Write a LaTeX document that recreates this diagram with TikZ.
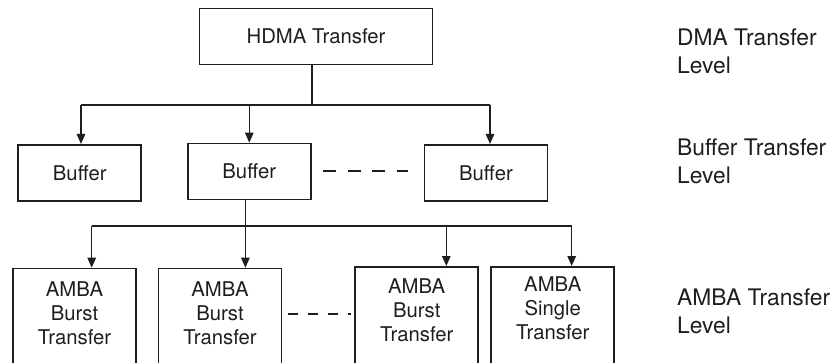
\documentclass[tikz,border=0pt]{standalone}
\usepackage{fontspec}
\setmainfont{TeX Gyre Heros}
\usetikzlibrary{arrows.meta,calc}
\definecolor{ink}{RGB}{30,30,30}
\begin{document}
\begin{tikzpicture}[x=1pt,y=-1pt,
  box/.style={draw=ink,line width=1.7pt,rectangle,minimum width=123pt,minimum height=56pt,inner sep=0pt,font=\fontsize{20.3}{24}\selectfont,text=ink},
  tallbox/.style={draw=ink,line width=1.7pt,rectangle,minimum width=123pt,minimum height=130pt,inner sep=0pt,anchor=north},
  boxtext/.style={anchor=north,align=center,inner sep=0pt,font=\fontsize{20.3}{24}\selectfont,text=ink},
  lvl/.style={anchor=north west,align=left,inner sep=0pt,font=\fontsize{22.8}{28.3}\selectfont,text=ink},
  conn/.style={draw=ink,line width=1.3pt},
  arr/.style={conn,-{Triangle[length=10pt,width=8.5pt]}},
  gapdash/.style={draw=ink,line width=2.2pt}
]
\useasboundingbox (0,0) rectangle (839,362);
\clip (0,0) rectangle (839,362);

% top level
\node[box,minimum width=233pt,minimum height=56pt] (hdma) at (316,36.5) {HDMA Transfer};

% buffers
\node[box] (b1) at (79.8,172.8) {Buffer};
\node[box] (b2) at (249.3,171.5) {Buffer};
\node[box] (b3) at (486,172.8) {Buffer};

% AMBA boxes (cut off at bottom)
\node[tallbox] (m1) at (74.5,267.7) {};
\node[tallbox] (m2) at (220,267.7) {};
\node[tallbox] (m3) at (416.7,266) {};
\node[tallbox] (m4) at (552.8,266) {};
\node[boxtext] (t1) at ($(m1.north)+(0,14)$) {AMBA\\Burst\\Transfer};
\node[boxtext] (t2) at ($(m2.north)+(0,14)$) {AMBA\\Burst\\Transfer};
\node[boxtext] (t3) at ($(m3.north)+(0,12.6)$) {AMBA\\Burst\\Transfer};
\node[boxtext] (t4) at ($(m4.north)+(0,10.7)$) {AMBA\\Single\\Transfer};

% level labels
\node[lvl] (l1) at (677,28.5) {DMA Transfer\\Level};
\node[lvl] (l2) at (677,138.5) {Buffer Transfer\\Level};
\node[lvl] (l3) at (677,288.5) {AMBA Transfer\\Level};

% upper tree
\coordinate (j1) at (312,105);
\coordinate (busL) at (81,105);
\coordinate (busM) at (249.3,105);
\coordinate (busR) at (490,105);
\draw[conn] (j1 |- hdma.south) -- (j1);
\draw[conn] (busL) -- (busR);
\draw[arr] (busL) -- (busL |- b1.north);
\draw[arr] (busM) -- (busM |- b2.north);
\draw[arr] (busR) -- (busR |- b3.north);

% lower tree
\coordinate (a1) at (91.7,226);
\coordinate (a2) at (245.4,226);
\coordinate (a3) at (446.3,226);
\coordinate (a4) at (571.7,226);
\draw[conn] (a2 |- b2.south) -- (a2);
\draw[conn] (a1) -- (a4);
\draw[arr] (a1) -- (a1 |- m1.north);
\draw[arr] (a2) -- (a2 |- m2.north);
\draw[arr] (a3) -- (a3 |- m3.north);
\draw[arr] (a4) -- (a4 |- m4.north);

% ellipsis dashes
\draw[gapdash,dash pattern=on 13pt off 11.5pt] ($(b2.east)+(11.7,-0.8)$) -- ($(b3.west)+(-15.7,-2.1)$);
\draw[gapdash,dash pattern=on 10pt off 10pt] ($(m2.north east)+(5.3,46.3)$) -- ($(m3.north west)+(-3,48)$);
\end{tikzpicture}
\end{document}
